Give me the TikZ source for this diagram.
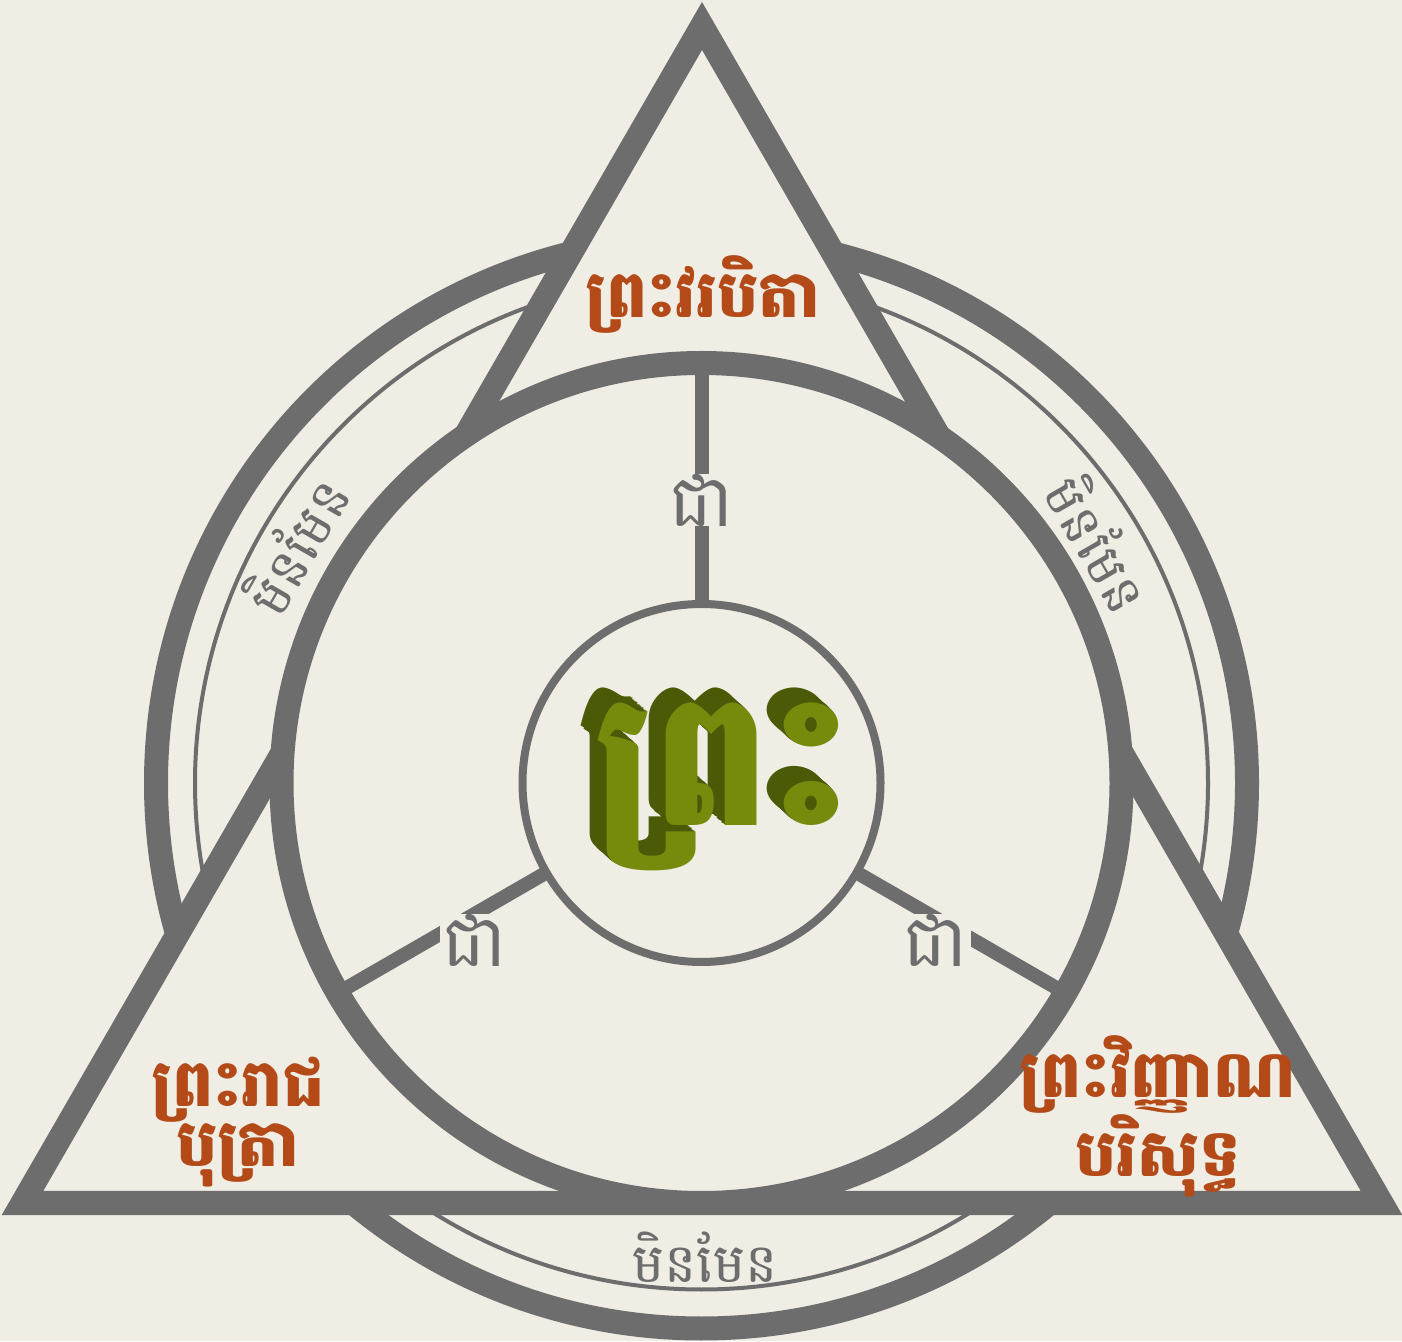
\documentclass[tikz,border=0pt]{standalone}
\usepackage{fontspec}
\usetikzlibrary{calc}
\newfontfamily\khmer[Script=Khmer]{Battambang}
\definecolor{bg}{HTML}{EFEDE4}
\definecolor{ln}{HTML}{6D6D6D}
\definecolor{rd}{HTML}{B34A17}
\definecolor{gn}{HTML}{768B0B}
\definecolor{gd}{HTML}{4B5A06}
\begin{document}
\begin{tikzpicture}[x=1pt,y=1pt,
  redlbl/.style={text=rd,font=\khmer\bfseries\fontsize{65}{58}\selectfont,align=center,inner sep=0},
  graylbl/.style={text=ln,font=\khmer\fontsize{54}{54}\selectfont,inner sep=0},
  islbl/.style={text=ln,font=\khmer\fontsize{72}{72}\selectfont,fill=bg,inner xsep=3pt,inner ysep=0pt},
  godfont/.style={font=\khmer\bfseries\fontsize{186}{186}\selectfont,inner sep=0},
  thick24/.style={draw=ln,line width=24pt}]
\fill[bg] (0,0) rectangle (1402,1341);
\useasboundingbox (0,0) rectangle (1402,1341);
\coordinate (O) at (701.5,558);
\draw[thick24] (O) circle (545.5);
\draw[ln,line width=4pt] (O) circle (506.5);
\coordinate (A) at (702,1315);
\coordinate (B) at (1381.5,138);
\coordinate (C) at (22.5,138);
\draw[thick24,fill=bg] (A) -- (B) -- (C) -- cycle;
\draw[thick24,fill=bg] (O) circle (420);
% spokes
\foreach \a/\n in {90/s1,210/s2,330/s3}{
  \coordinate (\n i) at ($(O)+(\a:179)$);
  \coordinate (\n o) at ($(O)+(\a:420)$);
  \draw[ln,line width=14pt] (\n i) -- (\n o);
}
\node[islbl] (j1) at (701.5,841) {ជា};
\node[islbl] (j2) at (475,401) {ជា};
\node[islbl] (j3) at (936,401) {ជា};
\draw[ln,line width=8pt,fill=bg] (O) circle (179);
% centre word with extrusion
\foreach \i in {12,11,...,1}{
  \node[text=gd,godfont] at ($(723,554)+(-1.4*\i,1.25*\i)$) {ព្រះ};
}
\node[text=gn,godfont] (god) at (723,554) {ព្រះ};
% person labels
\node[redlbl] (father) at (703,1046) {ព្រះវរបិតា};
\node[redlbl] (son) at (238,219) {ព្រះរាជ\\បុត្រា};
\node[redlbl] (spirit) at (1158,225) {ព្រះវិញ្ញាណ\\បរិសុទ្ធ};
% is-not labels
\node[graylbl,rotate=60] (n1) at (295,796) {មិនមែន};
\node[graylbl,rotate=-60] (n2) at (1100,798) {មិនមែន};
\node[graylbl] (n3) at (705,84) {មិនមែន};
\end{tikzpicture}
\end{document}
